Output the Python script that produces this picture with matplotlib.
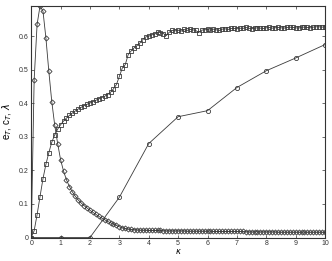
import numpy as np
import matplotlib
matplotlib.use('Agg')
import matplotlib.pyplot as plt

plt.rcParams['font.family'] = ['Liberation Sans', 'DejaVu Sans']

# kappa grid for the dense curves (step 0.1)
kappa = np.round(np.arange(0, 10.01, 0.1), 1)

# e_T : sharp peak then decay (diamonds)
e_T = [0.0, 0.47, 0.635, 0.69, 0.675, 0.595, 0.495, 0.405, 0.335, 0.28,
       0.232, 0.198, 0.172, 0.152, 0.136, 0.123, 0.112, 0.103, 0.095, 0.088,
       0.081, 0.075, 0.069, 0.063, 0.058, 0.053, 0.048, 0.044, 0.040, 0.036,
       0.032, 0.029, 0.027, 0.025, 0.024, 0.023, 0.023, 0.022, 0.022, 0.022,
       0.021,
       0.021, 0.021, 0.021, 0.021, 0.020, 0.020, 0.020, 0.020, 0.020, 0.020,
       0.020, 0.020, 0.019, 0.019, 0.019, 0.019, 0.019, 0.019, 0.019, 0.019,
       0.019, 0.018, 0.018, 0.018, 0.018, 0.018, 0.018, 0.018, 0.018, 0.018,
       0.018, 0.018, 0.017, 0.017, 0.017, 0.017, 0.017, 0.017, 0.017, 0.017,
       0.017, 0.017, 0.017, 0.016, 0.016, 0.016, 0.016, 0.016, 0.016, 0.016,
       0.016, 0.016, 0.016, 0.016, 0.016, 0.016, 0.016, 0.016, 0.016, 0.015]

# c_T : rising curve with a step near kappa = 3 (squares)
c_T = [0.0, 0.02, 0.068, 0.122, 0.175, 0.218, 0.253, 0.284, 0.306, 0.323,
       0.336, 0.347, 0.356, 0.364, 0.371, 0.377, 0.383, 0.388, 0.393, 0.397,
       0.401, 0.405, 0.409, 0.413, 0.417, 0.421, 0.426, 0.433, 0.443, 0.456,
       0.48, 0.505, 0.515, 0.545, 0.556, 0.565, 0.572, 0.58, 0.59, 0.598,
       0.60,
       0.604, 0.606, 0.612, 0.611, 0.608, 0.602, 0.612, 0.617, 0.616, 0.618,
       0.615, 0.620, 0.617, 0.620, 0.619, 0.617, 0.611, 0.618, 0.619, 0.620,
       0.618, 0.621, 0.619, 0.617, 0.621, 0.622, 0.620, 0.623, 0.623, 0.622,
       0.624, 0.623, 0.626, 0.624, 0.622, 0.624, 0.625, 0.624, 0.623, 0.625,
       0.626, 0.624, 0.625, 0.626, 0.625, 0.624, 0.626, 0.627, 0.626, 0.625,
       0.624, 0.627, 0.627, 0.626, 0.625, 0.627, 0.628, 0.628, 0.627, 0.628]

# lambda : sparse curve (circles)
kappa_lam = [0, 1, 2, 3, 4, 5, 6, 7, 8, 9, 10]
lam = [0.0, 0.0, 0.0, 0.12, 0.28, 0.36, 0.378, 0.447, 0.497, 0.535, 0.575]

fig = plt.figure(figsize=(3.32, 2.61), dpi=100)
ax = fig.add_axes([0.094, 0.09, 0.885, 0.887])

lc = '#3a3a3a'
ax.plot(kappa, e_T, color=lc, lw=0.6, marker='D', ms=2.6, mfc='none', mew=0.6)
ax.plot(kappa, c_T, color=lc, lw=0.6, marker='s', ms=2.6, mfc='none', mew=0.6)
ax.plot(kappa_lam, lam, color=lc, lw=0.6, marker='o', ms=3.0, mfc='none', mew=0.6)

ax.set_xlim(0, 10)
ax.set_ylim(0, 0.69)
ax.set_xticks(range(0, 11))
ax.set_yticks([0, 0.1, 0.2, 0.3, 0.4, 0.5, 0.6])
ax.set_yticklabels(['0', '0.1', '0.2', '0.3', '0.4', '0.5', '0.6'])
ax.tick_params(direction='in', length=2, width=0.5, labelsize=5, pad=2,
               top=True, right=True, colors='#333333')
for s in ax.spines.values():
    s.set_linewidth(0.8)
    s.set_color('#333333')

ax.set_xlabel(r'$\kappa$', fontsize=6, labelpad=0)
ax.set_ylabel(r'e$_T$, c$_T$, $\lambda$', fontsize=7, labelpad=3)

fig.savefig('out.png', dpi=100)
